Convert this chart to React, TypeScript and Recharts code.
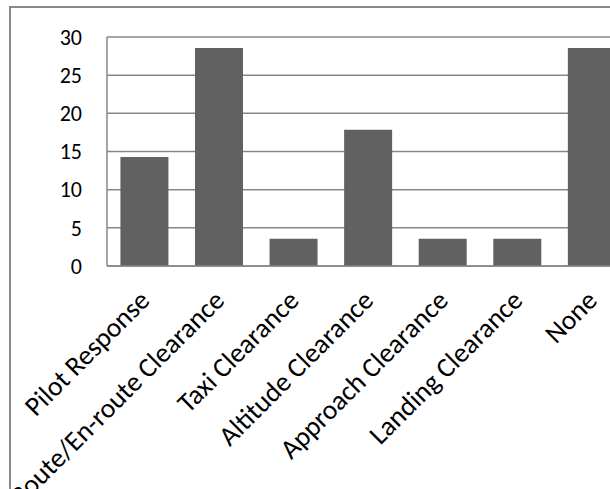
import React from 'react'
import { BarChart, Bar, XAxis, YAxis, CartesianGrid } from 'recharts'

const categories = [
  'Pilot Response',
  'Route/En-route Clearance',
  'Taxi Clearance',
  'Altitude Clearance',
  'Approach Clearance',
  'Landing Clearance',
  'None',
]
const values = [14.29, 28.57, 3.57, 17.86, 3.57, 3.57, 28.57]
const yTicks = [0, 5, 10, 15, 20, 25, 30]

const data = categories.map((name, i) => ({ name, value: values[i] }))

const FONT = 'Calibri, Carlito, Lato, sans-serif'

const XTick = (props: any) => {
  const { x, y, payload } = props
  const tx = x + 7
  const ty = y + 36
  return (
    <text
      x={tx}
      y={ty}
      transform={`rotate(-45, ${tx}, ${ty})`}
      textAnchor="end"
      fontSize={27.5}
      fontFamily={FONT}
      fill="#000"
    >
      {payload.value}
    </text>
  )
}

const App: React.FC = () => {
  return (
    <div
      style={{
        position: 'fixed',
        left: 0,
        top: 0,
        width: 610,
        height: 489,
        overflow: 'hidden',
        background: '#fff',
      }}
    >
      <div
        style={{
          position: 'absolute',
          left: 9,
          top: 6,
          width: 700,
          height: 560,
          border: '2px solid #888',
          overflow: 'hidden',
        }}
      >
        <BarChart
          width={700}
          height={560}
          data={data}
          margin={{ top: 29, right: 82, bottom: 0, left: 0 }}
          barCategoryGap="18%"
        >
          <CartesianGrid vertical={false} stroke="#878787" strokeWidth={1.5} />
          <XAxis
            dataKey="name"
            interval={0}
            height={302}
            tickLine={false}
            tickSize={0}
            tickMargin={0}
            stroke="#878787"
            strokeWidth={1.5}
            tick={<XTick />}
          />
          <YAxis
            width={96}
            domain={[0, 30]}
            ticks={yTicks}
            tickLine={false}
            tickSize={0}
            tickMargin={25}
            stroke="#878787"
            strokeWidth={1.5}
            tick={{ fill: '#000', fontSize: 22, fontFamily: FONT }}
          />
          <Bar dataKey="value" fill="#616161" isAnimationActive={false} />
        </BarChart>
      </div>
    </div>
  )
}

export default App
